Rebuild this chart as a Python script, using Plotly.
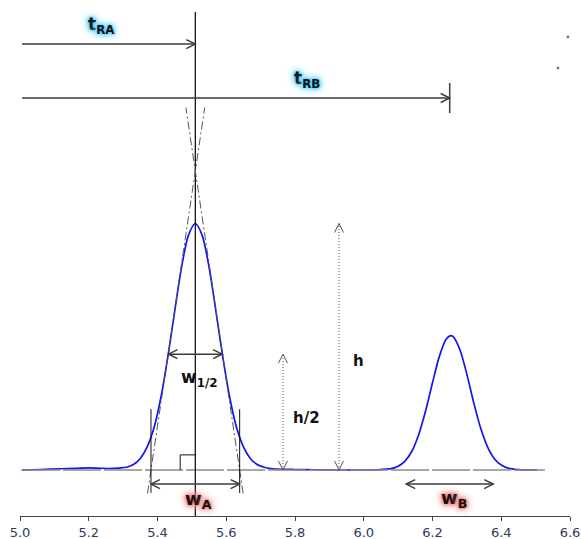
import plotly.graph_objects as go

# ---------------- data ----------------
# chromatogram trace (x = time, y = signal relative to height of peak A)
curve_x = [5.005, 5.06, 5.12, 5.18, 5.22, 5.26,
           5.29, 5.31, 5.33, 5.35, 5.37, 5.39, 5.41, 5.43, 5.45, 5.47, 5.49,
           5.51,
           5.53, 5.55, 5.57, 5.59, 5.61, 5.63, 5.65, 5.67, 5.69, 5.71, 5.73,
           5.76, 5.80, 5.86, 5.92, 5.98, 6.04,
           6.08, 6.10, 6.12, 6.14, 6.16, 6.18, 6.20, 6.22, 6.24,
           6.253,
           6.26, 6.28, 6.30, 6.32, 6.34, 6.36, 6.38, 6.40, 6.42,
           6.45, 6.504]
curve_y = [0.000, 0.002, 0.005, 0.008, 0.008, 0.006,
           0.008, 0.011, 0.022, 0.047, 0.094, 0.172, 0.295, 0.458, 0.644, 0.823, 0.952,
           1.000,
           0.952, 0.823, 0.644, 0.458, 0.295, 0.172, 0.094, 0.047, 0.022, 0.011, 0.006,
           0.003, 0.002, 0.001, 0.000, 0.000, 0.001,
           0.0055, 0.015, 0.036, 0.076, 0.144, 0.240, 0.354, 0.461, 0.531,
           0.545,
           0.541, 0.487, 0.388, 0.273, 0.170, 0.094, 0.046, 0.020, 0.0075,
           0.0014, 0.000]

# peak parameters
peak_names = ["A", "B"]
peak_tr = [5.51, 6.25]          # retention times
peak_h = [1.0, 0.545]           # heights
peak_wbase = [0.258, 0.253]     # base widths (tangent construction)
whalf_A = 0.156                 # width at half height of peak A
half_level = 0.47               # level where w1/2 / h/2 are drawn

x_ticks = [5.0, 5.2, 5.4, 5.6, 5.8, 6.0, 6.2, 6.4, 6.6]
x_ticktext = ["5.0", "5.2", "5.4", "5.6", "5.8", "6.0", "6.2", "6.4", "6.6"]

stray_dots_x = [6.594, 6.565]
stray_dots_y = [1.757, 1.631]

# ---------------- layout geometry ----------------
W, H = 581, 539
M_L, M_R, M_T, M_B = 20, 11, 0, 23
X_RANGE = [5.0, 6.6]
Y_RANGE = [-0.1866, 1.9067]
px_x = (W - M_L - M_R) / (X_RANGE[1] - X_RANGE[0])
px_y = (H - M_T - M_B) / (Y_RANGE[1] - Y_RANGE[0])

ARROW_C = "#3c3c3c"
shapes = []


def seg(x0, y0, x1, y1, color=ARROW_C, width=1.5, dash="solid"):
    shapes.append(dict(type="line", xref="x", yref="y", x0=x0, y0=y0, x1=x1, y1=y1,
                       line=dict(color=color, width=width, dash=dash)))


def chevron(xt, yt, direction, color=ARROW_C, width=1.5, L=9, Wd=4.5):
    lx, ly = L / px_x, L / px_y
    wx, wy = Wd / px_x, Wd / px_y
    if direction == "right":
        pts = [(xt - lx, yt + wy), (xt, yt), (xt - lx, yt - wy)]
    elif direction == "left":
        pts = [(xt + lx, yt + wy), (xt, yt), (xt + lx, yt - wy)]
    elif direction == "up":
        pts = [(xt - wx, yt - ly), (xt, yt), (xt + wx, yt - ly)]
    else:
        pts = [(xt - wx, yt + ly), (xt, yt), (xt + wx, yt + ly)]
    path = "M {},{} L {},{} L {},{}".format(*[v for p in pts for v in p])
    shapes.append(dict(type="path", xref="x", yref="y", path=path,
                       line=dict(color=color, width=width)))


trA, trB = peak_tr
hA, hB = peak_h
wA, wB = peak_wbase
sigA = wA / 4.0
x_start = 5.006

# baseline (grey, dashed)
seg(x_start, 0, 6.527, 0, color="#8a8a8a", width=1.5, dash="38px,3px")

# vertical line through peak A apex
seg(trA, Y_RANGE[0], trA, 1.858, color="#000000", width=1.2)

# tangents at inflection points of peak A
e = 0.6065
y_lo, y_hi = -0.095, 1.47
for sgn in (-1, 1):
    xa = trA + sgn * (2 * sigA - y_lo * sigA / e)
    xb = trA + sgn * (2 * sigA - y_hi * sigA / e)
    seg(xa, y_lo, xb, y_hi, color="#555555", width=1, dash="8px,3px,2px,3px")

# retention time arrows
y_tra, y_trb = 1.728, 1.509
seg(x_start, y_tra, trA, y_tra)
chevron(trA, y_tra, "right")
seg(x_start, y_trb, trB, y_trb)
chevron(trB, y_trb, "right")
seg(trB, 1.448, trB, 1.570, width=1.5)

# short verticals at base of peak A
for sgn in (-1, 1):
    seg(trA + sgn * wA / 2, -0.093, trA + sgn * wA / 2, 0.247, color="#111111", width=1)

# base width arrows
y_w = -0.057
for tr, w in zip(peak_tr, peak_wbase):
    seg(tr - w / 2, y_w, tr + w / 2, y_w)
    chevron(tr - w / 2, y_w, "left")
    chevron(tr + w / 2, y_w, "right")

# half-height width arrow
seg(trA - whalf_A / 2, half_level, trA + whalf_A / 2, half_level)
chevron(trA - whalf_A / 2, half_level, "left")
chevron(trA + whalf_A / 2, half_level, "right")

# right-angle marker
ra = 0.044
shapes.append(dict(type="path", xref="x", yref="y",
                   path="M {},{} L {},{} L {},{}".format(trA - ra, 0, trA - ra, ra * px_x / px_y, trA, ra * px_x / px_y),
                   line=dict(color="#111111", width=1)))

# h/2 and h arrows (dotted)
x_h2, x_h = 5.765, 5.928
seg(x_h2, 0, x_h2, half_level, color="#555555", width=1, dash="1px,2px")
chevron(x_h2, half_level, "up", color="#555555", width=1)
chevron(x_h2, 0, "down", color="#555555", width=1)
seg(x_h, 0, x_h, hA, color="#555555", width=1, dash="1px,2px")
chevron(x_h, hA, "up", color="#555555", width=1)
chevron(x_h, 0, "down", color="#555555", width=1)

# ---------------- figure ----------------
fig = go.Figure()
fig.add_trace(go.Scatter(x=curve_x, y=curve_y, mode="lines",
                         line=dict(color="#1414f0", width=1.7, shape="spline", smoothing=0.8),
                         hoverinfo="skip", showlegend=False))
fig.add_trace(go.Scatter(x=stray_dots_x, y=stray_dots_y, mode="markers",
                         marker=dict(color="#777777", size=2.5, symbol="square"),
                         hoverinfo="skip", showlegend=False))

FONT = "DejaVu Sans"
blue_glow = "0px 0px 3px #35c4ff, 0px 0px 5px #35c4ff, 0px 0px 8px #6fd6ff, 0px 0px 10px #9fe4ff"
red_glow = "0px 0px 3px #f06a6a, 0px 0px 5px #f06a6a, 0px 0px 8px #f28a8a, 0px 0px 10px #f7b0b0"


def label(x, y, text, size, shadow=None):
    f = dict(family=FONT, size=size, color="#111111")
    if shadow:
        f["shadow"] = shadow
    return dict(x=x, y=y, xref="x", yref="y", text=text, showarrow=False,
                font=f, xanchor="center", yanchor="middle")


annotations = [
    label(5.2385, 1.805, "<b>t<sub>RA</sub></b>", 17, blue_glow),
    label(5.835, 1.586, "<b>t<sub>RB</sub></b>", 17, blue_glow),
    label(trA + 0.012, 0.373, "<b>w<sub>1/2</sub></b>", 17),
    label(5.832, 0.211, "<b>h/2</b>", 15),
    label(5.986, 0.442, "<b>h</b>", 15),
    label(trA + 0.01, -0.122, "<b>w<sub>A</sub></b>", 18, red_glow),
    label(trB + 0.012, -0.118, "<b>w<sub>B</sub></b>", 18, red_glow),
]

fig.update_layout(
    width=W, height=H,
    margin=dict(l=M_L, r=M_R, t=M_T, b=M_B),
    paper_bgcolor="white", plot_bgcolor="white",
    shapes=shapes, annotations=annotations,
    hovermode=False,
    xaxis=dict(range=X_RANGE, tickvals=x_ticks, ticktext=x_ticktext,
               showline=True, linecolor="#444444", linewidth=1,
               ticks="outside", ticklen=4, tickcolor="#444444",
               showgrid=False, zeroline=False, ticklabeloverflow="allow",
               tickfont=dict(family=FONT, size=13, color="#2e3a55")),
    yaxis=dict(range=Y_RANGE, visible=False, showgrid=False, zeroline=False),
)

# remove the default page margin so the figure fills the 581x539 window exactly
fig.write_html("out.html",
               config={"displayModeBar": False},
               post_script="document.body.style.margin='0';document.body.style.overflow='hidden';")
